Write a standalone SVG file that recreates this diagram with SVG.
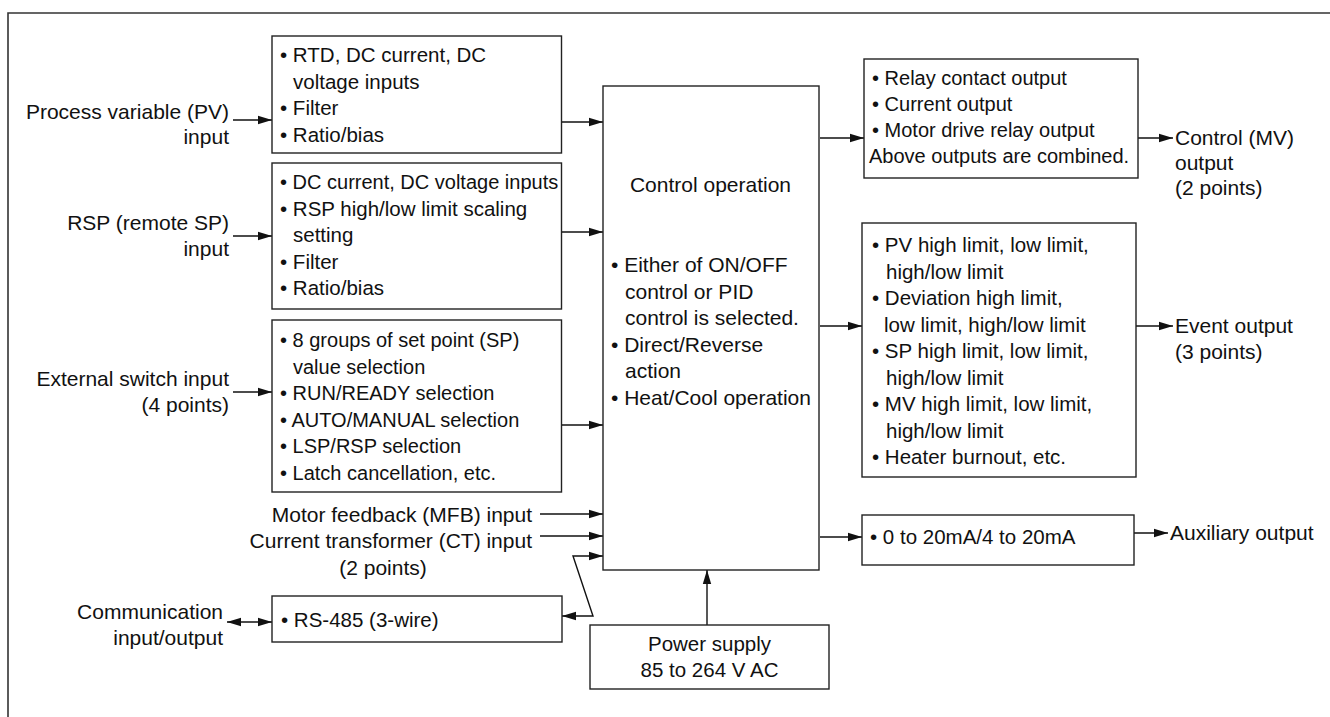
<svg xmlns="http://www.w3.org/2000/svg" width="1330" height="717" viewBox="0 0 1330 717">
<defs>
<style>
text{font-family:"Liberation Sans",Arial,sans-serif;fill:#111;font-size:20.5px}
.l{font-size:21px}
.s{font-size:20px}
.e{text-anchor:end}
.m{text-anchor:middle}
.box{fill:#fff;stroke:#222;stroke-width:1.4}
.c{fill:none;stroke:#111;stroke-width:1.4}
</style>
<marker id="ah" viewBox="0 0 14 10" refX="14" refY="5" markerWidth="14" markerHeight="10" markerUnits="userSpaceOnUse" orient="auto-start-reverse">
<path d="M0,0.8 L14,5 L0,9.2 z" fill="#111"/>
</marker>
</defs>
<rect width="1330" height="717" fill="#fff"/>
<g id="frame">
<path d="M8,717 V13 H1330" fill="none" stroke="#333" stroke-width="1.6"/>
</g>

<g id="connectors">
<line class="c" x1="233" y1="120" x2="272" y2="120" marker-end="url(#ah)"/>
<line class="c" x1="562" y1="122" x2="603" y2="122" marker-end="url(#ah)"/>
<line class="c" x1="233" y1="236" x2="272" y2="236" marker-end="url(#ah)"/>
<line class="c" x1="562" y1="232" x2="603" y2="232" marker-end="url(#ah)"/>
<line class="c" x1="233" y1="392" x2="272" y2="392" marker-end="url(#ah)"/>
<line class="c" x1="562" y1="425" x2="603" y2="425" marker-end="url(#ah)"/>
<line class="c" x1="540" y1="514" x2="603" y2="514" marker-end="url(#ah)"/>
<line class="c" x1="540" y1="536" x2="603" y2="536" marker-end="url(#ah)"/>
<polyline class="c" points="562,616 593,616 573,556 603,556" marker-start="url(#ah)" marker-end="url(#ah)"/>
<line class="c" x1="227" y1="622" x2="272" y2="622" marker-start="url(#ah)" marker-end="url(#ah)"/>
<line class="c" x1="707" y1="625" x2="707" y2="570" marker-end="url(#ah)"/>
<line class="c" x1="820" y1="138" x2="864" y2="138" marker-end="url(#ah)"/>
<line class="c" x1="1138" y1="138" x2="1173" y2="138" marker-end="url(#ah)"/>
<line class="c" x1="820" y1="326" x2="862" y2="326" marker-end="url(#ah)"/>
<line class="c" x1="1136" y1="326" x2="1173" y2="326" marker-end="url(#ah)"/>
<line class="c" x1="820" y1="537" x2="862" y2="537" marker-end="url(#ah)"/>
<line class="c" x1="1134" y1="533" x2="1168" y2="533" marker-end="url(#ah)"/>
</g>

<g id="pv-label">
<text class="l e" x="229" y="119">Process variable (PV)</text>
<text class="l e" x="229" y="144">input</text>
</g>
<g id="pv-box">
<rect class="box" x="272" y="36" width="289.5" height="117"/>
<text x="280" y="62">• RTD, DC current, DC</text>
<text x="293" y="88.5">voltage inputs</text>
<text x="280" y="115">• Filter</text>
<text x="280" y="141.5">• Ratio/bias</text>
</g>

<g id="rsp-label">
<text class="l e" x="229" y="230">RSP (remote SP)</text>
<text class="l e" x="229" y="256">input</text>
</g>
<g id="rsp-box">
<rect class="box" x="272" y="163" width="289.5" height="146"/>
<text class="s" x="280" y="189">• DC current, DC voltage inputs</text>
<text x="280" y="215.5">• RSP high/low limit scaling</text>
<text x="293" y="242">setting</text>
<text x="280" y="268.5">• Filter</text>
<text x="280" y="295">• Ratio/bias</text>
</g>

<g id="ext-label">
<text class="l e" x="229" y="386">External switch input</text>
<text class="l e" x="229" y="412">(4 points)</text>
</g>
<g id="ext-box">
<rect class="box" x="272" y="320" width="289.5" height="172"/>
<text class="s" x="280" y="347">• 8 groups of set point (SP)</text>
<text class="s" x="293" y="373.5">value selection</text>
<text class="s" x="280" y="400">• RUN/READY selection</text>
<text class="s" x="280" y="426.5">• AUTO/MANUAL selection</text>
<text class="s" x="280" y="453">• LSP/RSP selection</text>
<text class="s" x="280" y="479.5">• Latch cancellation, etc.</text>
</g>

<g id="mfb-label">
<text class="l e" x="532" y="522">Motor feedback (MFB) input</text>
</g>
<g id="ct-label">
<text class="l e" x="532" y="548">Current transformer (CT) input</text>
<text class="l m" x="383" y="575">(2 points)</text>
</g>

<g id="comm-label">
<text class="l e" x="223" y="619">Communication</text>
<text class="l e" x="223" y="645">input/output</text>
</g>
<g id="rs485-box">
<rect class="box" x="272" y="596" width="290" height="46"/>
<text x="281" y="627">• RS-485 (3-wire)</text>
</g>

<g id="control-box">
<rect class="box" x="603" y="86" width="216" height="484"/>
<text class="l m" x="710.5" y="192">Control operation</text>
<text class="l" x="611" y="272">• Either of ON/OFF</text>
<text class="l" x="625" y="298.5">control or PID</text>
<text class="l" x="625" y="325">control is selected.</text>
<text class="l" x="611" y="351.5">• Direct/Reverse</text>
<text class="l" x="625" y="378">action</text>
<text class="l" x="611" y="404.5">• Heat/Cool operation</text>
</g>

<g id="power-box">
<rect class="box" x="590" y="625" width="239" height="64"/>
<text class="m" x="709.5" y="651">Power supply</text>
<text class="m" x="709.5" y="677">85 to 264 V AC</text>
</g>

<g id="mv-box">
<rect class="box" x="864" y="59" width="274" height="119"/>
<text class="s" x="872" y="85">• Relay contact output</text>
<text class="s" x="872" y="111">• Current output</text>
<text class="s" x="872" y="137">• Motor drive relay output</text>
<text class="s" x="869" y="163">Above outputs are combined.</text>
</g>
<g id="mv-label">
<text class="l" x="1175" y="145">Control (MV)</text>
<text class="l" x="1175" y="170">output</text>
<text class="l" x="1175" y="195">(2 points)</text>
</g>

<g id="event-box">
<rect class="box" x="862" y="223" width="274" height="254"/>
<text x="872" y="252">• PV high limit, low limit,</text>
<text x="886" y="278.5">high/low limit</text>
<text x="872" y="305">• Deviation high limit,</text>
<text x="884" y="331.5">low limit, high/low limit</text>
<text x="872" y="358">• SP high limit, low limit,</text>
<text x="886" y="384.5">high/low limit</text>
<text x="872" y="411">• MV high limit, low limit,</text>
<text x="886" y="437.5">high/low limit</text>
<text x="872" y="464">• Heater burnout, etc.</text>
</g>
<g id="event-label">
<text class="l" x="1175" y="333">Event output</text>
<text class="l" x="1175" y="359">(3 points)</text>
</g>

<g id="aux-box">
<rect class="box" x="862" y="515" width="272" height="50"/>
<text x="870" y="544">• 0 to 20mA/4 to 20mA</text>
</g>
<g id="aux-label">
<text class="l" x="1170" y="540">Auxiliary output</text>
</g>
</svg>
